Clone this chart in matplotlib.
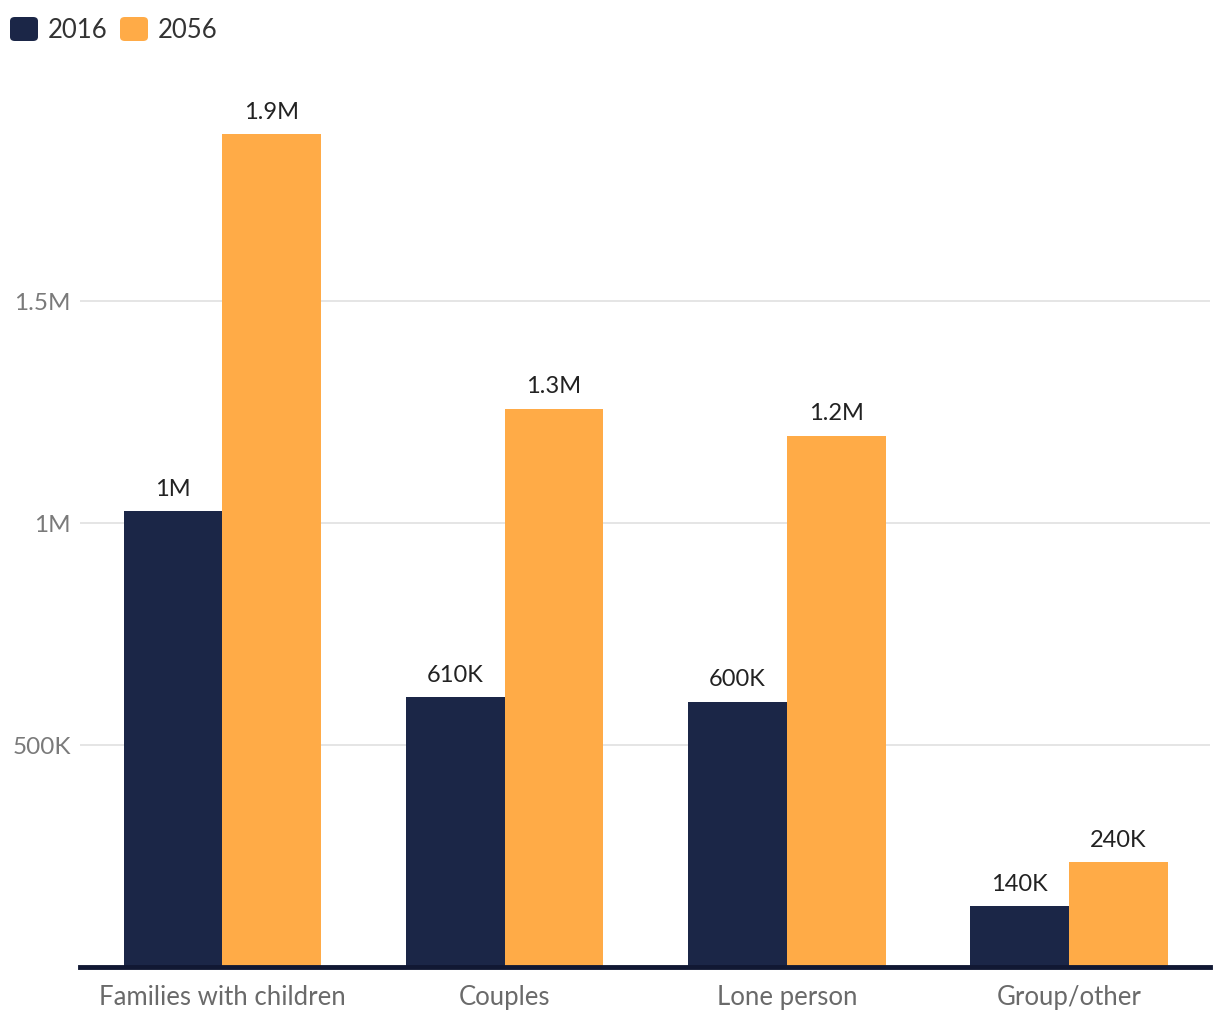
import matplotlib
matplotlib.use("Agg")
import matplotlib.pyplot as plt
from matplotlib.patches import FancyBboxPatch
import numpy as np

categories = ["Families with children", "Couples", "Lone person", "Group/other"]
series_names = ["2016", "2056"]
values_2016 = [1027000, 608000, 597000, 137000]
values_2056 = [1876000, 1257000, 1196000, 236000]
labels_2016 = ["1M", "610K", "600K", "140K"]
labels_2056 = ["1.9M", "1.3M", "1.2M", "240K"]
ytick_vals = [500000, 1000000, 1500000]
ytick_labels = ["500K", "1M", "1.5M"]

navy = "#1b2647"
orange = "#ffab47"
plt.rcParams['font.family'] = ['Lato', 'DejaVu Sans']

W, H = 1220, 1020
fig = plt.figure(figsize=(W / 100, H / 100), dpi=100)
left, right, bottom, top = 80, 1210, 52, 940
ax = fig.add_axes([left / W, bottom / H, (right - left) / W, (top - bottom) / H])

x = np.arange(len(categories))
bw = 0.35
ax.bar(x - bw / 2, values_2016, width=bw, color=navy, zorder=3)
ax.bar(x + bw / 2, values_2056, width=bw, color=orange, zorder=3)

for xi, v, l in zip(x, values_2016, labels_2016):
    ax.annotate(l, (xi - bw / 2, v), xytext=(0, 9), textcoords="offset points",
                ha="center", va="bottom", fontsize=17, color="#222222")
for xi, v, l in zip(x, values_2056, labels_2056):
    ax.annotate(l, (xi + bw / 2, v), xytext=(0, 9), textcoords="offset points",
                ha="center", va="bottom", fontsize=17, color="#222222")

ax.set_xlim(-0.505, 3.5)
ax.set_ylim(0, 2000000)
ax.set_yticks(ytick_vals)
ax.set_yticklabels(ytick_labels, fontsize=17.5, color="#7a7a7a")
ax.set_xticks(x)
ax.set_xticklabels(categories, fontsize=18.5, color="#6a6a6a")
ax.tick_params(axis="both", length=0)
ax.tick_params(axis="y", pad=6.5)
ax.tick_params(axis="x", pad=12)
ax.grid(axis="y", color="#e0e0e0", linewidth=1.2, zorder=0)
for s in ["top", "right", "left"]:
    ax.spines[s].set_visible(False)
ax.spines["bottom"].set_color("#111833")
ax.spines["bottom"].set_linewidth(3.5)
ax.spines["bottom"].set_zorder(4)

# legend
for px, col, name in [(10, navy, "2016"), (120, orange, "2056")]:
    box = FancyBboxPatch((px / W, (H - 42) / H), 28 / W, 24 / H,
                         boxstyle="round,pad=0,rounding_size=0.004",
                         transform=fig.transFigure, facecolor=col, edgecolor="none")
    fig.patches.append(box)
    fig.text((px + 38) / W, (H - 30) / H, name, fontsize=18.5, color="#333333",
             ha="left", va="center")

fig.savefig("out.png", dpi=100)
